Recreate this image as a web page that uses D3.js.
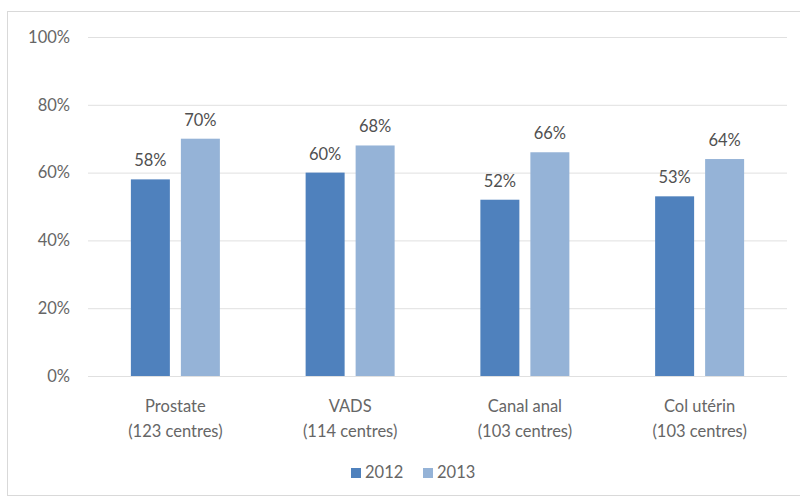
<!DOCTYPE html>
<html>
<head>
<meta charset="utf-8">
<script src="https://cdn.jsdelivr.net/npm/d3@7"></script>
<style>
  html, body { margin: 0; padding: 0; background: #fff; }
  svg { display: block; font-family: Lato, "Open Sans", sans-serif; }
</style>
</head>
<body>
<svg id="chart" width="800" height="498"></svg>
<script>
// Categories (two-line labels) and yearly shares
const categories = ["Prostate", "VADS", "Canal anal", "Col utérin"];
const centres = ["(123 centres)", "(114 centres)", "(103 centres)", "(103 centres)"];
const series = ["2012", "2013"];
const values2012 = [0.58, 0.60, 0.52, 0.53];
const values2013 = [0.70, 0.68, 0.66, 0.64];
const yTicks = [0, 0.2, 0.4, 0.6, 0.8, 1.0];
const colors = ["#4f81bd", "#95b3d7"];

const svg = d3.select("#chart");

// Outer frame
svg.append("rect")
  .attr("x", 7.5).attr("y", 11.5)
  .attr("width", 800).attr("height", 484)
  .attr("fill", "#fff").attr("stroke", "#d9d9d9");

const plot = { left: 88, right: 787, top: 37, bottom: 376 };

const y = d3.scaleLinear().domain([0, 1]).range([plot.bottom, plot.top]);
const x0 = d3.scaleBand().domain(categories).range([plot.left, plot.right]);
const x1 = d3.scaleBand().domain(series).range([0, x0.bandwidth()])
  .paddingInner(0.22).paddingOuter(0.8575);
const color = d3.scaleOrdinal().domain(series).range(colors);

// Gridlines and y tick labels
const yAxis = d3.axisLeft(y).tickValues(yTicks)
  .tickFormat(d3.format(".0%"))
  .tickSize(-(plot.right - plot.left)).tickPadding(18);
const gy = svg.append("g").attr("transform", `translate(${plot.left},0)`).call(yAxis);
gy.select(".domain").remove();
gy.selectAll(".tick line").attr("stroke", "#e0e0e0").attr("stroke-width", 1);
gy.selectAll(".tick text")
  .attr("fill", "#666666").attr("font-size", 16.5)
  .attr("font-family", "Lato, 'Open Sans', sans-serif");

// Bars
const rows = categories.map((c, i) => ({
  cat: c,
  vals: [{ s: "2012", v: values2012[i] }, { s: "2013", v: values2013[i] }]
}));

const groups = svg.append("g").selectAll("g").data(rows).join("g")
  .attr("transform", d => `translate(${x0(d.cat)},0)`);

groups.selectAll("rect").data(d => d.vals).join("rect")
  .attr("x", d => x1(d.s))
  .attr("y", d => y(d.v))
  .attr("width", x1.bandwidth())
  .attr("height", d => y(0) - y(d.v))
  .attr("fill", d => color(d.s));

groups.selectAll("text.val").data(d => d.vals).join("text")
  .attr("class", "val")
  .attr("x", d => x1(d.s) + x1.bandwidth() / 2)
  .attr("y", d => y(d.v) - 13)
  .attr("text-anchor", "middle")
  .attr("fill", "#505050").attr("font-size", 16.5)
  .text(d => d3.format(".0%")(d.v));

// Category labels
const xl = svg.append("g").selectAll("text").data(categories).join("text")
  .attr("x", d => x0(d) + x0.bandwidth() / 2)
  .attr("text-anchor", "middle")
  .attr("fill", "#666666").attr("font-size", 16.5);
xl.append("tspan").attr("x", d => x0(d) + x0.bandwidth() / 2).attr("y", 412).text(d => d);
xl.append("tspan").attr("x", d => x0(d) + x0.bandwidth() / 2).attr("y", 437)
  .text((d, i) => centres[i]);

// Legend
const legendPos = [351, 423];
const lg = svg.append("g").selectAll("g").data(series).join("g")
  .attr("transform", (d, i) => `translate(${legendPos[i]},468)`);
lg.append("rect").attr("width", 10).attr("height", 10).attr("fill", d => color(d));
lg.append("text").attr("x", 14).attr("y", 9.5)
  .attr("fill", "#666666").attr("font-size", 16.5).text(d => d);
</script>
</body>
</html>
